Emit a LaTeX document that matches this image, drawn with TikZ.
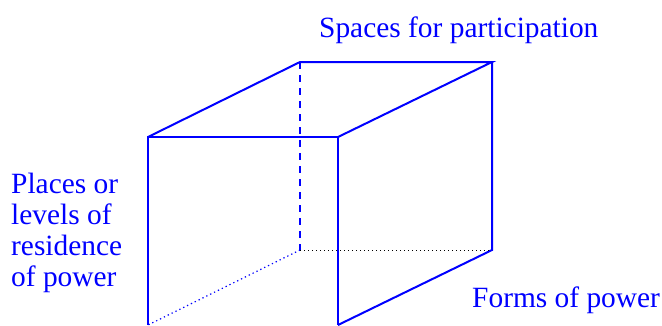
\documentclass[tikz,border=0pt]{standalone}
\usepackage{fontspec}
\setmainfont{Liberation Serif}
\newfontfamily\labfont{Liberation Serif}
\definecolor{pblue}{RGB}{0,0,255}
\tikzset{
  edge/.style={draw=pblue, line width=2pt},
  hidden/.style={draw=pblue, line width=2pt, dash pattern=on 7pt off 6pt},
  dotblue/.style={draw=pblue, line width=1.2pt, dash pattern=on 1.3pt off 3pt},
  dotblack/.style={draw=black, line width=1pt, dash pattern=on 1pt off 3pt},
  lab/.style={text=pblue, font=\labfont\fontsize{29.4}{31}\selectfont, inner sep=0pt, align=left}
}
\begin{document}
\begin{tikzpicture}[x=1pt,y=-1pt]
\useasboundingbox (0,0) rectangle (662,325);
\clip (0,0) rectangle (662,325);
% cube corners
\coordinate (ftl) at (148,137);
\coordinate (ftr) at (338,137);
\coordinate (fbl) at (148,325);
\coordinate (fbr) at (338,325);
\coordinate (btl) at (300,62);
\coordinate (btr) at (492,62);
\coordinate (bbl) at (300,250);
\coordinate (bbr) at (492,250);
% visible edges
\draw[edge] (fbl) -- (ftl) -- (ftr) -- (fbr);
\draw[edge] (ftl) -- (btl) -- (btr) -- (ftr);
\draw[edge] (btr) -- (bbr) -- (fbr);
% hidden edges
\draw[hidden] (btl) -- (bbl);
\draw[dotblue] (bbl) -- (fbl);
\draw[dotblack] (bbl) -- (bbr);
% labels
\node[lab, anchor=base west] (spaces) at (319,37) {Spaces for participation};
\node[lab, anchor=base west] (forms) at (472,307) {Forms of power};
\node[lab, anchor=base west] (places) at (11,286) {Places or\\levels of\\residence\\of power};
\end{tikzpicture}
\end{document}
